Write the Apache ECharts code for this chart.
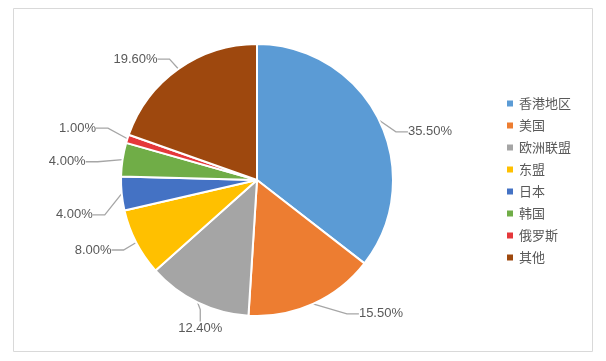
<!DOCTYPE html>
<html><head><meta charset="utf-8">
<script src="https://cdn.jsdelivr.net/npm/echarts@6/dist/echarts.min.js"></script>
<style>html,body{margin:0;padding:0;background:#fff}#c{width:606px;height:361px}</style>
</head><body><div id="c"></div>
<script>
const categories = ['香港地区','美国','欧洲联盟','东盟','日本','韩国','俄罗斯','其他'];
const values = [35.5, 15.5, 12.4, 8.0, 4.0, 4.0, 1.0, 19.6];
const colors = ['#5B9BD5','#ED7D31','#A5A5A5','#FFC000','#4472C4','#70AD47','#E5383B','#9E480E'];
// label nudges (style only)
const labelShift = [[-7,17],[16,-1],[55,15],[11,2],[8,20],[0,4],[5,-7],[11,0]];

const chart = echarts.init(document.getElementById('c'), null, {renderer:'canvas'});
chart.setOption({
  animation: false,
  graphic: [{type:'rect', shape:{x:13.5,y:8.5,width:579,height:343}, style:{fill:'none', stroke:'#D9D9D9', lineWidth:1}}],
  legend: {
    orient: 'vertical', left: 500, top: 92, itemWidth: 8, itemHeight: 8, itemGap: 9,
    icon: 'rect',
    textStyle: {color:'#595959', fontSize: 13, fontFamily: 'Noto Sans CJK SC'},
    data: categories
  },
  series: [{
    type: 'pie',
    center: [257, 180],
    radius: [0, 136],
    startAngle: 90,
    clockwise: true,
    color: colors,
    itemStyle: {borderColor:'#fff', borderWidth: 2},
    label: {
      show: true,
      formatter: p => p.value.toFixed(2) + '%',
      color: '#595959', fontSize: 13, fontFamily: 'Liberation Sans',
      padding: [3, 4]
    },
    labelLine: {show: true, length: 12, length2: 12, lineStyle:{color:'#A6A6A6', width:1.3}},
    labelLayout: p => {
      const r = p.labelRect, s = labelShift[p.dataIndex];
      const ax = p.align === 'right' ? r.x + r.width : (p.align === 'center' ? r.x + r.width / 2 : r.x);
      const ay = p.verticalAlign === 'top' ? r.y : (p.verticalAlign === 'bottom' ? r.y + r.height : r.y + r.height / 2);
      return {x: ax + s[0], y: ay + s[1]};
    },
    data: categories.map((n,i)=>({name:n, value: values[i]}))
  }]
});
</script></body></html>
